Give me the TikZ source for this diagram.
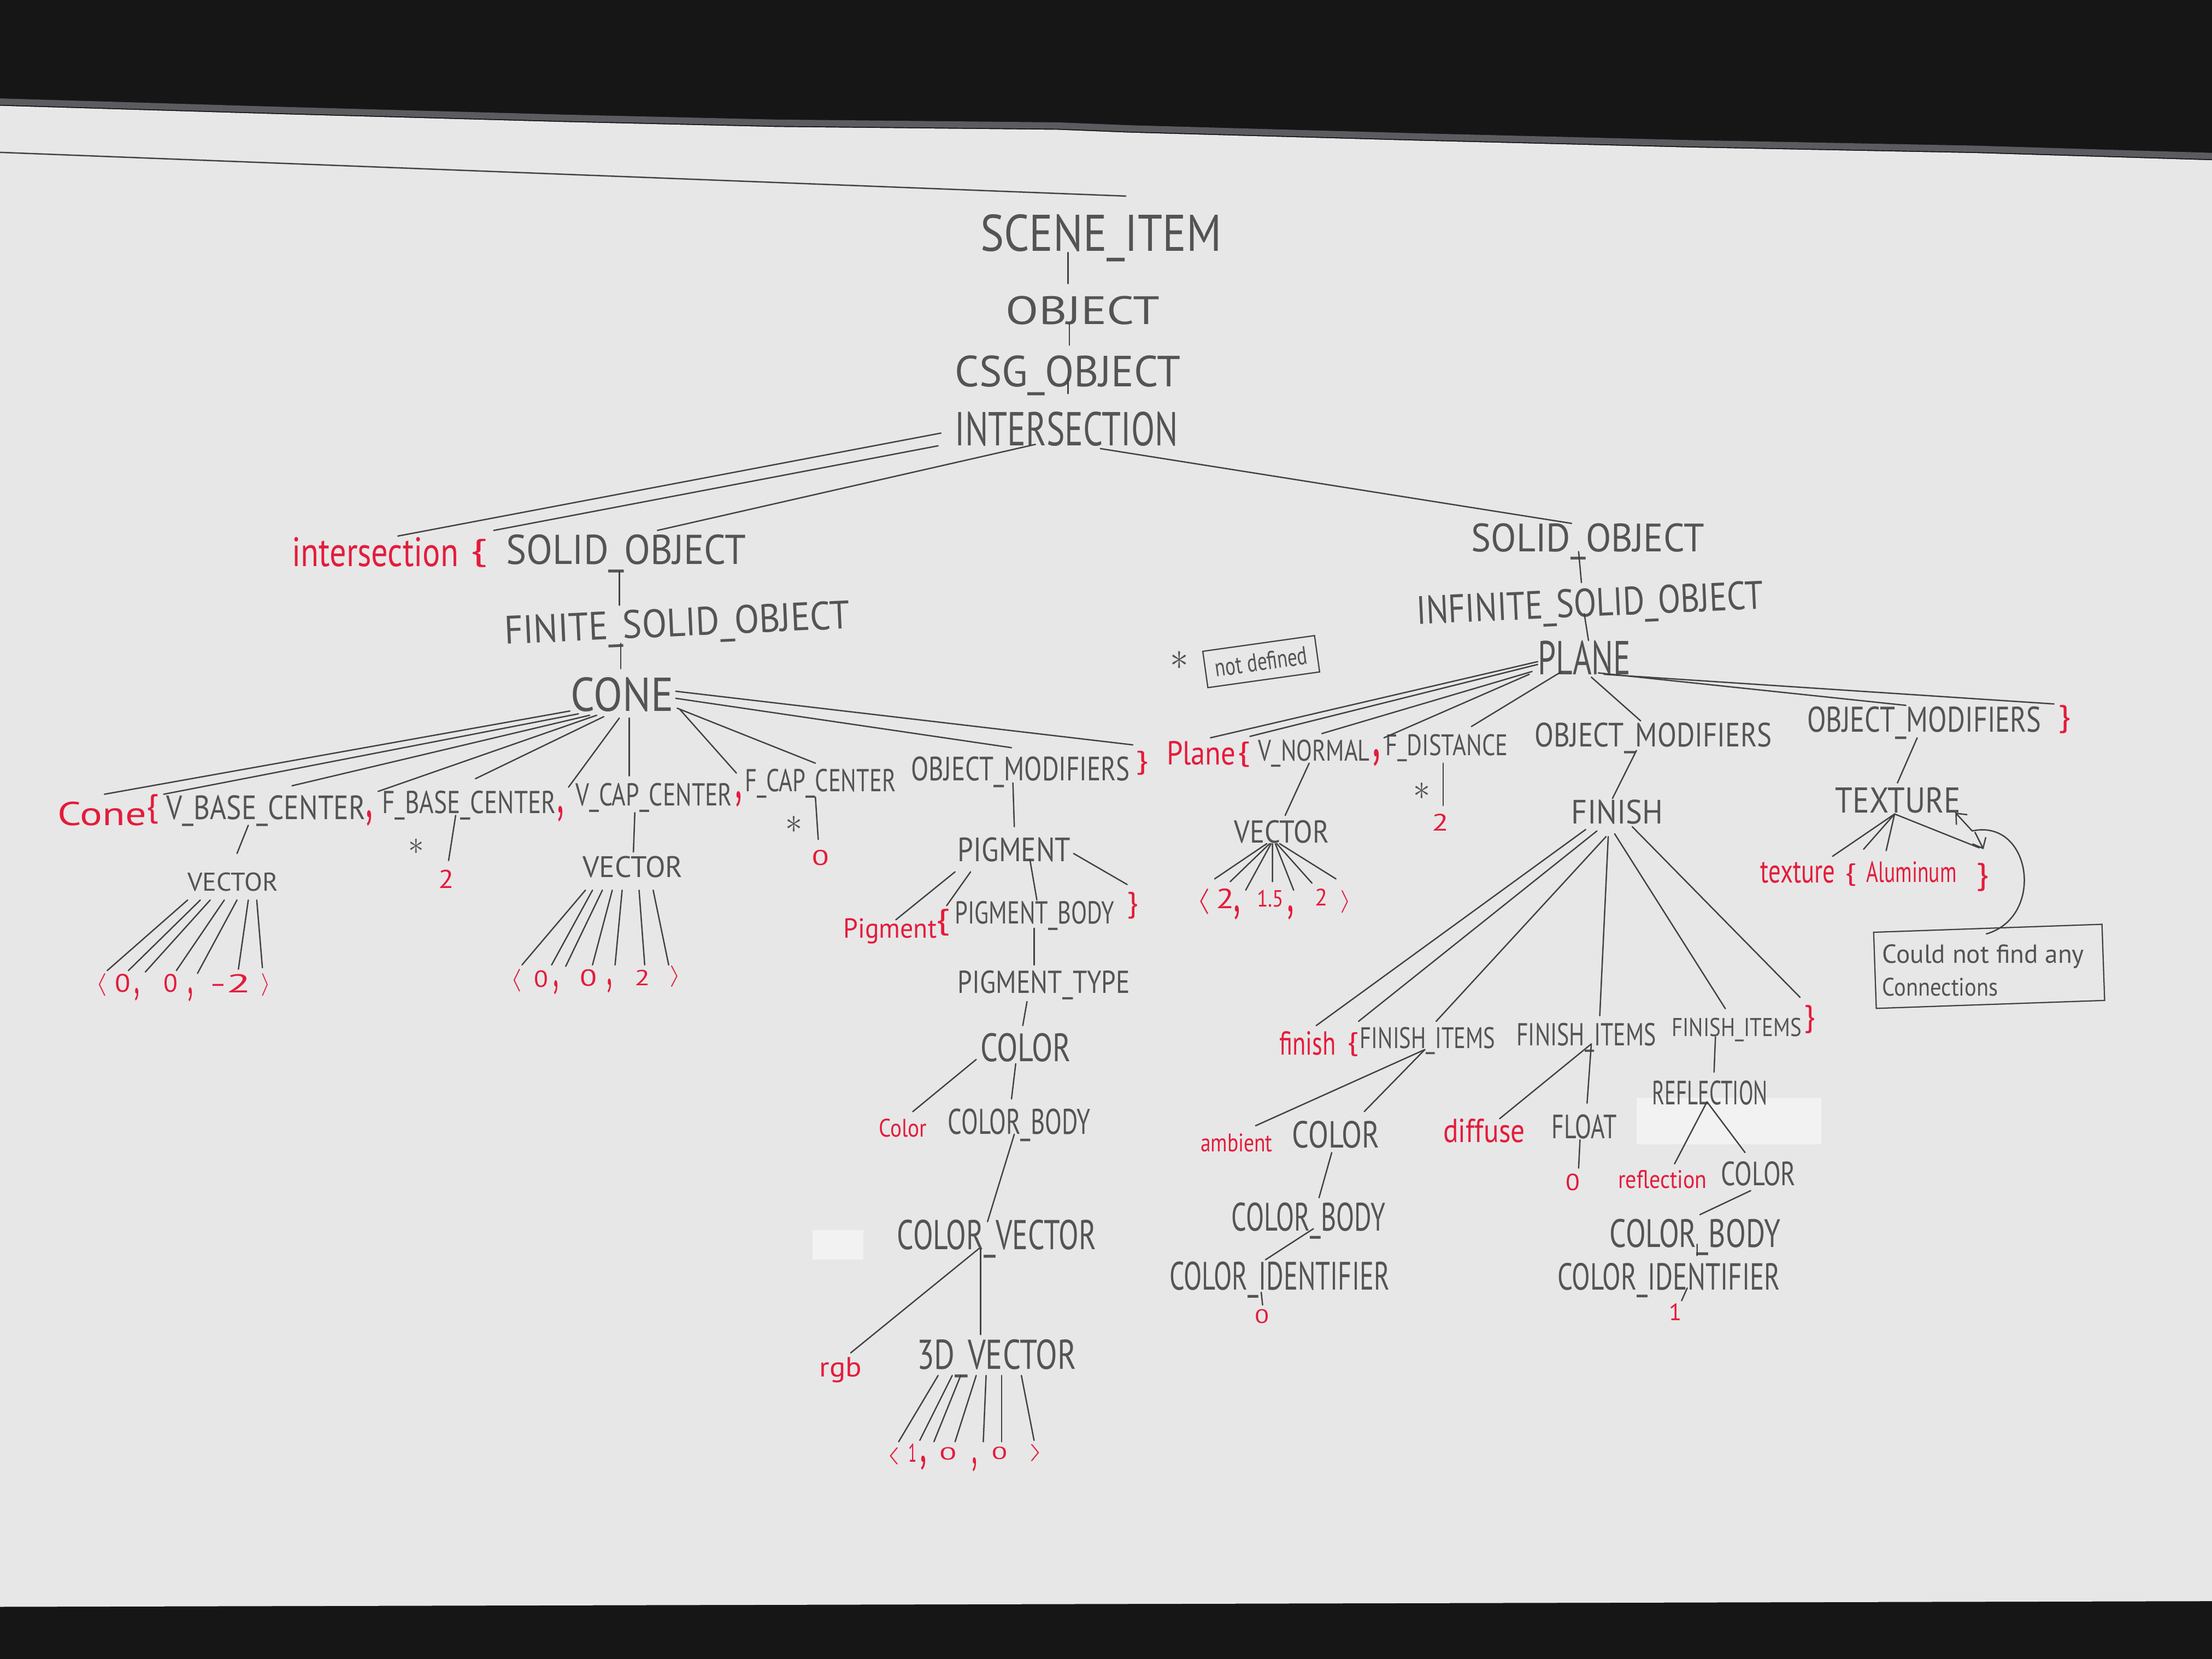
\documentclass[tikz,border=0pt]{standalone}
\usepackage{fontspec}
\usepackage{graphicx}
\setmainfont{PT Sans}
\newfontfamily\hand{PT Sans}
\usetikzlibrary{arrows.meta}

% one unit of the drawing grid
\newlength\pxu
\setlength\pxu{0.02cm}
% capitals: fit width x cap height, underscores hang below
\newcommand\capw[3]{\raisebox{0pt}[#2\pxu][0pt]{\resizebox{#1\pxu}{#2\pxu}{#3}}}
% any text: fit width x total height
\newcommand\totw[3]{\resizebox*{#1\pxu}{#2\pxu}{#3}}

\definecolor{ink}{RGB}{84,84,84}
\definecolor{inkline}{RGB}{66,66,66}
\definecolor{redink}{RGB}{228,28,58}
\definecolor{boardc}{RGB}{231,231,232}
\definecolor{darkc}{RGB}{22,22,22}
\definecolor{framec}{RGB}{92,92,96}
\definecolor{patchc}{RGB}{242,242,242}

\tikzset{
  bk/.style={inner sep=0pt, text=ink, font=\hand},
  rd/.style={inner sep=0pt, text=redink, font=\hand},
  link/.style={draw=inkline, line width=0.55pt, line cap=round},
  boxed/.style={draw=inkline, line width=0.5pt},
}

\begin{document}
\begin{tikzpicture}[x=0.02cm, y=-0.02cm]
\useasboundingbox (0,0) rectangle (1568,1176);

% ---------- whiteboard ----------
\fill[darkc] (0,0) rectangle (1568,1176);
\fill[boardc] (0,75) -- (200,81) -- (400,86.5) -- (550,90) -- (750,92) -- (800,94)
  -- (1000,99.6) -- (1200,104.6) -- (1400,108.5) -- (1568,113.6)
  -- (1568,1135) -- (0,1139) -- cycle;
\draw[framec, line width=0.09cm] (0,72) -- (200,78) -- (400,83.5) -- (550,87) -- (750,89)
  -- (800,91) -- (1000,96.6) -- (1200,101.6) -- (1400,105.5) -- (1568,110.6);
\fill[patchc] (576,872) rectangle (612,893);
\fill[patchc] (1160,778) rectangle (1291,811);
\coordinate (strayA) at (0,108);
\coordinate (strayB) at (798,139);
\draw[link] (strayA) -- (strayB);

% ---------- top chain ----------
\node[bk] (si) at (780.5,165) {\capw{171}{26}{SCENE\_ITEM}};
\node[bk] (obj) at (767.5,220) {\capw{109}{20}{OBJECT}};
\node[bk] (csg) at (757,263) {\capw{160}{22}{CSG\_OBJECT}};
\node[bk] (inter) at (756,304) {\capw{158}{24}{INTERSECTION}};

% ---------- intersection branch ----------
\node[rd] (kwinter) at (266,391.5) {\totw{118}{21}{intersection}};
\node[rd] (lb1) at (339.5,392) {\totw{12}{20}{\{}};
\node[bk] (so1) at (444,389.5) {\capw{170}{21}{SOLID\_OBJECT}};
\node[bk, rotate=2.6] (fso) at (480,441) {\capw{245}{20}{FINITE\_SOLID\_OBJECT}};
\node[bk] (cone) at (441,492) {\capw{73}{24}{CONE}};

\node[rd] (kwcone) at (72.5,577) {\totw{63}{17}{Cone}};
\node[rd] (lb2) at (108,573.5) {\totw{9}{21}{\{}};
\node[bk] (vbc) at (188.5,572.5) {\capw{141}{17}{V\_BASE\_CENTER}};
\node[rd] (cm1) at (262,580) {\totw{5}{11}{,}};
\node[bk] (fbc) at (332.5,568.5) {\capw{123}{16}{F\_BASE\_CENTER}};
\node[rd] (cm2) at (397.5,577) {\totw{5}{11}{,}};
\node[bk] (vcc) at (463.5,563) {\capw{111}{16}{V\_CAP\_CENTER}};
\node[rd] (cm3) at (523.5,566.5) {\totw{5}{11}{,}};
\node[bk] (fcc) at (581.5,553) {\capw{107}{16}{F\_CAP\_CENTER}};
\node[bk] (om1) at (723.5,545) {\capw{155}{17}{OBJECT\_MODIFIERS}};
\node[rd] (rb1) at (809.5,541) {\totw{9}{17}{\}}};

\node[bk] (ast1) at (295,600) {\totw{11}{11}{$\ast$}};
\node[rd] (two1) at (316.5,623) {\totw{11}{13}{2}};
\node[bk] (vec1) at (165,625) {\capw{64}{13}{VECTOR}};
\node[rd] (la1) at (72,698) {\totw{8}{16}{$\langle$}};
\node[rd] (z1) at (87,697) {\totw{11}{13}{0}};
\node[rd] (c1) at (97,705) {\totw{4}{9}{,}};
\node[rd] (z2) at (121,697) {\totw{10}{13}{0}};
\node[rd] (c2) at (135,705) {\totw{4}{10}{,}};
\node[rd] (m2) at (163.5,697) {\totw{29}{13}{-2}};
\node[rd] (ra1) at (188.5,698) {\totw{7}{16}{$\rangle$}};

\node[bk] (vec2) at (448.5,614.5) {\capw{71}{15}{VECTOR}};
\node[rd] (la2) at (366,695) {\totw{8}{16}{$\langle$}};
\node[rd] (z3) at (383.5,694) {\totw{10}{12}{0}};
\node[rd] (c3) at (394,700) {\totw{4}{10}{,}};
\node[rd] (z4) at (417,693) {\totw{12}{12}{0}};
\node[rd] (c4) at (432,699) {\totw{4}{10}{,}};
\node[rd] (t2) at (455.5,693) {\totw{11}{11}{2}};
\node[rd] (ra2) at (478.5,692) {\totw{8}{15}{$\rangle$}};

\node[bk] (ast2) at (563,584.5) {\totw{12}{12}{$\ast$}};
\node[rd] (zero1) at (581.5,608) {\totw{12}{11}{0}};

\node[bk] (pig) at (719,602) {\capw{80}{17}{PIGMENT}};
\node[rd] (kwpig) at (631,660) {\totw{66}{18}{Pigment}};
\node[rd] (lb3) at (668.5,654) {\totw{10}{19}{\{}};
\node[bk] (pb) at (733.5,647) {\capw{113}{16}{PIGMENT\_BODY}};
\node[rd] (rb2) at (803,642) {\totw{8}{19}{\}}};
\node[bk] (ptype) at (740,696) {\capw{122}{16}{PIGMENT\_TYPE}};
\node[bk] (col1) at (727,742.5) {\capw{64}{20}{COLOR}};
\node[rd] (kwcol) at (640,799.5) {\totw{34}{13}{Color}};
\node[bk] (cb1) at (722.5,795) {\capw{101}{18}{COLOR\_BODY}};
\node[bk] (cv) at (706.5,875) {\capw{141}{21}{COLOR\_VECTOR}};
\node[rd] (kwrgb) at (596,971) {\totw{30}{18}{rgb}};
\node[bk] (v3d) at (706.5,960) {\capw{113}{21}{3D\_VECTOR}};
\node[rd] (la3) at (633,1032) {\totw{10}{12}{$\langle$}};
\node[rd] (o1) at (647,1030) {\totw{6}{13}{1}};
\node[rd] (c5) at (654.5,1037) {\totw{5}{10}{,}};
\node[rd] (z5) at (672,1030.5) {\totw{12}{9}{0}};
\node[rd] (c6) at (691,1038) {\totw{4}{10}{,}};
\node[rd] (z6) at (708.5,1030) {\totw{11}{9}{0}};
\node[rd] (ra3) at (734.5,1030) {\totw{10}{12}{$\rangle$}};

% ---------- plane branch ----------
\node[bk] (so2) at (1125.5,381) {\capw{165}{20}{SOLID\_OBJECT}};
\node[bk, rotate=2.6] (iso) at (1127,427) {\capw{246}{20}{INFINITE\_SOLID\_OBJECT}};
\node[bk] (plane) at (1123,466) {\capw{66}{24}{PLANE}};
\node[bk] (ast3) at (836,468) {\totw{13}{13}{$\ast$}};
\node[bk, boxed, rotate=8, minimum width=1.6cm, minimum height=0.52cm] (nd) at (894,469)
  {\totw{66}{13}{not defined}};

\node[rd] (kwplane) at (851.5,534) {\totw{49}{17}{Plane}};
\node[rd] (lb4) at (881.5,535) {\totw{9}{18}{\{}};
\node[bk] (vn) at (931.5,532) {\capw{79}{15}{V\_NORMAL}};
\node[rd] (cm5) at (976,537) {\totw{6}{12}{,}};
\node[bk] (fd) at (1025.5,528) {\capw{87}{15}{F\_DISTANCE}};
\node[bk] (om2) at (1172,521) {\capw{168}{17}{OBJECT\_MODIFIERS}};
\node[bk] (om3) at (1364,510) {\capw{166}{18}{OBJECT\_MODIFIERS}};
\node[rd] (rb3) at (1463.5,510) {\totw{9}{20}{\}}};

\node[bk] (ast4) at (1008,561) {\totw{12}{12}{$\ast$}};
\node[rd] (two2) at (1021,583) {\totw{12}{12}{2}};
\node[bk] (vec3) at (908.5,589.5) {\capw{67}{16}{VECTOR}};
\node[rd] (la4) at (853,639) {\totw{10}{18}{$\langle$}};
\node[rd] (t3) at (868.5,637) {\totw{13}{14}{2}};
\node[rd] (c7) at (877,647) {\totw{5}{10}{,}};
\node[rd] (f15) at (900.5,637) {\totw{19}{12}{1.5}};
\node[rd] (c8) at (915,647) {\totw{5}{10}{,}};
\node[rd] (t4) at (936.5,636) {\totw{9}{12}{2}};
\node[rd] (ra4) at (954,639) {\totw{8}{16}{$\rangle$}};

\node[bk] (fin) at (1146.5,575.5) {\capw{65}{17}{FINISH}};
\node[bk] (tex) at (1345.5,567) {\capw{89}{18}{TEXTURE}};
\node[rd] (kwtex) at (1274.5,618.5) {\totw{53}{15}{texture}};
\node[rd] (lb5) at (1312,620) {\totw{8}{16}{\{}};
\node[rd] (alu) at (1355,618) {\totw{64}{15}{Aluminum}};
\node[rd] (rb4) at (1405.5,622) {\totw{9}{20}{\}}};
\node[boxed, rotate=2, minimum width=3.24cm, minimum height=1.08cm, inner sep=0pt] (cnf) at (1410,685) {};
\node[bk, anchor=west] (cnf1) at (1334,678) {\totw{143}{17}{Could not find any}};
\node[bk, anchor=west] (cnf2) at (1334,699.5) {\totw{82}{13}{Connections}};
\coordinate (jn) at (1398,589);

\node[rd] (fikw) at (927,739.5) {\totw{40}{17}{finish}};
\node[rd] (lb6) at (959,740.5) {\totw{8}{17}{\{}};
\node[bk] (fi1) at (1012,735.5) {\capw{96}{15}{FINISH\_ITEMS}};
\node[bk] (fi2) at (1124.5,733) {\capw{99}{16}{FINISH\_ITEMS}};
\node[bk] (fi3) at (1231,728) {\capw{92}{13}{FINISH\_ITEMS}};
\node[rd] (rb5) at (1283,722.5) {\totw{8}{20}{\}}};
\node[bk] (refl) at (1212,774.5) {\capw{82}{17}{REFLECTION}};
\node[rd] (amb) at (876.5,810) {\totw{51}{13}{ambient}};
\node[bk] (col2) at (947,804) {\capw{62}{19}{COLOR}};
\node[rd] (dif) at (1052,801.5) {\totw{58}{17}{diffuse}};
\node[bk] (flt) at (1123,798.5) {\capw{46}{17}{FLOAT}};
\node[rd] (zero2) at (1115,838) {\totw{10}{12}{0}};
\node[rd] (kwrefl) at (1178.5,836) {\totw{63}{13}{reflection}};
\node[bk] (col3) at (1246.5,832) {\capw{53}{17}{COLOR}};
\node[bk] (cb2) at (927.5,862.5) {\capw{109}{20}{COLOR\_BODY}};
\node[bk] (cb3) at (1201.5,874) {\capw{121}{20}{COLOR\_BODY}};
\node[bk] (ci1) at (907,904.5) {\capw{156}{20}{COLOR\_IDENTIFIER}};
\node[bk] (ci2) at (1183,905) {\capw{158}{19}{COLOR\_IDENTIFIER}};
\node[rd] (zero3) at (894.5,933) {\totw{10}{10}{0}};
\node[rd] (one) at (1187.5,930) {\totw{9}{12}{1}};

% ---------- connectors ----------
\draw[link] ([shift={(-23.5,14)}]si.center) -- ([shift={(-10.5,-19)}]obj.center);
\draw[link] ([shift={(-9.5,8.5)}]obj.center) -- ([shift={(1,-18.3)}]csg.center);
\draw[link] ([shift={(0,5.5)}]csg.center) -- ([shift={(1,-25)}]inter.center);
\draw[link] ([shift={(-89,3)}]inter.center) -- ([shift={(16,-11.5)}]kwinter.center);
\draw[link] ([shift={(-91,12)}]inter.center) -- ([shift={(10.5,-16)}]lb1.center);
\draw[link] ([shift={(-22,11)}]inter.center) -- ([shift={(22,-13.5)}]so1.center);
\draw[link] ([shift={(24,14)}]inter.center) -- ([shift={(-11.5,-10)}]so2.center);
\draw[link] ([shift={(-5,15.5)}]so1.center) -- ([shift={(-41,-12)}]fso.center);
\draw[link] ([shift={(-40,15)}]fso.center) -- ([shift={(-1,-18)}]cone.center);

\foreach \sx/\sy/\t/\ex/\ey in {-37/12/kwcone/1.5/-14, -31/14/lb2/8/-10.5,
    -23/15/vbc/18.5/-15.5, -18/15/cm1/6/-19, -13/16/fbc/4.5/-16.5,
    -2/17/cm2/5.5/-19, 5/17/vcc/-17.5/-13, 41/11/cm3/-1.5/-18.5,
    39/10/fcc/-3.5/-12, 38/3/om1/-6.5/-15, 38/-2/rb1/-6.5/-13}
  \draw[link] ([shift={(\sx,\sy)}]cone.center) -- ([shift={(\ex,\ey)}]\t.center);

\draw[link] ([shift={(-12.5,12.5)}]vbc.center) -- ([shift={(3,-20)}]vec1.center);
\draw[link] ([shift={(-9.5,9.5)}]fbc.center) -- ([shift={(1.5,-13)}]two1.center);
\draw[link] ([shift={(-13.5,13)}]vcc.center) -- ([shift={(0.5,-10.5)}]vec2.center);
\draw[link] ([shift={(-3.5,12)}]fcc.center) -- ([shift={(-1.5,-13)}]zero1.center);
\draw[link] ([shift={(-5.5,10)}]om1.center) -- ([shift={(0,-16)}]pig.center);

\foreach \sx/\t/\ex/\ey in {-32/la1/4/-10, -23/z1/4/-9, -16/c1/6/-16, -6/z2/4/-9,
    3/c2/5/-15, 11/m2/5.5/-10, 17/ra1/-2.5/-12}
  \draw[link] ([shift={(\sx,13)}]vec1.center) -- ([shift={(\ex,\ey)}]\t.center);
\foreach \sx/\t/\ex/\ey in {-33.5/la2/4/-11, -28.5/z3/7.5/-10, -21.5/c3/7/-15,
    -14.5/z4/3/-9, -7.5/c4/4/-15, 4.5/t2/1.5/-9, 14.5/ra2/-4.5/-8}
  \draw[link] ([shift={(\sx,16.5)}]vec2.center) -- ([shift={(\ex,\ey)}]\t.center);
\foreach \sx/\t/\ex/\ey in {-41.5/la3/4/-10, -31.5/o1/5/-9, -25.5/c5/7.5/-15,
    -14.5/z5/5/-8.5, -7.5/c6/6/-16, 3.5/z6/1.5/-8, 17.5/ra3/-1.5/-9}
  \draw[link] ([shift={(\sx,15)}]v3d.center) -- ([shift={(\ex,\ey)}]\t.center);
\foreach \sx/\t/\ex/\ey in {-10.5/la4/8/-16, -8.5/t3/3.5/-12, -7.5/c7/6/-16,
    -6.5/f15/1.5/-12, -4.5/c8/2/-16, -3.5/t4/-6.5/-10, -1.5/ra4/-7/-16}
  \draw[link] ([shift={(\sx,8.5)}]vec3.center) -- ([shift={(\ex,\ey)}]\t.center);

\draw[link] ([shift={(-42,16)}]pig.center) -- ([shift={(4,-8)}]kwpig.center);
\draw[link] ([shift={(-31,16)}]pig.center) -- ([shift={(2.5,-12)}]lb3.center);
\draw[link] ([shift={(11,7)}]pig.center) -- ([shift={(1.5,-9)}]pb.center);
\draw[link] ([shift={(42,3)}]pig.center) -- ([shift={(-4,-15)}]rb2.center);
\draw[link] ([shift={(-0.5,11)}]pb.center) -- ([shift={(-7,-12)}]ptype.center);
\draw[link] ([shift={(-12,14)}]ptype.center) -- ([shift={(-2,-15.5)}]col1.center);
\draw[link] ([shift={(-35,8.5)}]col1.center) -- ([shift={(7,-11.5)}]kwcol.center);
\draw[link] ([shift={(-7,11.5)}]col1.center) -- ([shift={(-5.5,-16)}]cb1.center);
\draw[link] ([shift={(-3.5,9)}]cb1.center) -- ([shift={(-6.5,-9)}]cv.center);
\draw[link] ([shift={(-12.5,10)}]cv.center) -- ([shift={(7,-12)}]kwrgb.center);
\draw[link] ([shift={(-11.5,10)}]cv.center) -- ([shift={(-11.5,-14)}]v3d.center);

\draw[link] ([shift={(-6.5,10)}]so2.center) -- ([shift={(-6,-14)}]iso.center);
\draw[link] ([shift={(-4,8)}]iso.center) -- ([shift={(3,-12)}]plane.center);
\foreach \sx/\sy/\t/\ex/\ey in {-33/3/kwplane/6.5/-11, -33/5/lb4/4.5/-13,
    -37/10/vn/5.5/-12, -39/12/cm5/5/-14, -16/10/fd/17.5/-13,
    5/14/om2/-9/-10, 10/11/om3/-13/-10, 14/12/rb3/-7.5/-11}
  \draw[link] ([shift={(\sx,\sy)}]plane.center) -- ([shift={(\ex,\ey)}]\t.center);
\draw[link] ([shift={(-2.5,13)}]fd.center) -- ([shift={(2,-12)}]two2.center);
\draw[link] ([shift={(-3.5,9)}]vn.center) -- ([shift={(2.5,-11.5)}]vec3.center);
\draw[link] ([shift={(-12,11)}]om2.center) -- ([shift={(-3.5,-9.5)}]fin.center);
\draw[link] ([shift={(-5,13)}]om3.center) -- ([shift={(-0.5,-12)}]tex.center);
\foreach \t/\ex/\ey in {kwtex/24.5/-11.5, lb5/9/-18, alu/-18/-15, rb4/-2.5/-21}
  \draw[link] ([shift={(-2.5,10)}]tex.center) -- ([shift={(\ex,\ey)}]\t.center);

\draw[link] ([shift={(-2,-23)}]cnf.center) .. controls ([shift={(40,-35)}]cnf.center)
  and ([shift={(30,-105)}]cnf.center) .. (jn);
\draw[link, -{Straight Barb[length=3.5pt,width=6pt]}] (jn) -- ([shift={(40.5,9)}]tex.center);
\draw[link, -{Straight Barb[length=3.5pt,width=6pt]}] ([shift={(2,1)}]jn) -- ([shift={(0.5,-20)}]rb4.center);

\foreach \sx/\sy/\t/\ex/\ey in {-22.5/12.5/fikw/6/-12.5, -14.5/13.5/lb6/4/-16.5,
    -8/17.5/fi1/6/-11.5, -6.5/17.5/fi2/9.5/-13, -2/15.5/fi3/-8/-13,
    10.5/10.5/rb5/-7/-15.5}
  \draw[link] ([shift={(\sx,\sy)}]fin.center) -- ([shift={(\ex,\ey)}]\t.center);

\draw[link] ([shift={(-2,8.5)}]fi1.center) -- ([shift={(13.5,-12)}]amb.center);
\draw[link] ([shift={(-2,8.5)}]fi1.center) -- ([shift={(20,-16)}]col2.center);
\draw[link] ([shift={(3.5,7)}]fi2.center) -- ([shift={(11,-8.5)}]dif.center);
\draw[link] ([shift={(3.5,7)}]fi2.center) -- ([shift={(2,-16.5)}]flt.center);
\draw[link] ([shift={(-15,7)}]fi3.center) -- ([shift={(3,-14.5)}]refl.center);
\draw[link] ([shift={(-2,6.5)}]refl.center) -- ([shift={(8.5,-11)}]kwrefl.center);
\draw[link] ([shift={(-2,6.5)}]refl.center) -- ([shift={(-9.5,-15)}]col3.center);
\draw[link] ([shift={(-3,13)}]col2.center) -- ([shift={(7.5,-13.5)}]cb2.center);
\draw[link] ([shift={(3.5,8.5)}]cb2.center) -- ([shift={(-10,-11.5)}]ci1.center);
\draw[link] ([shift={(-13,11.5)}]ci1.center) -- ([shift={(0.5,-8)}]zero3.center);
\draw[link] ([shift={(-3,9.5)}]flt.center) -- ([shift={(4,-10)}]zero2.center);
\draw[link] ([shift={(-5.5,12)}]col3.center) -- ([shift={(3.5,-13)}]cb3.center);
\draw[link] ([shift={(1.5,8)}]cb3.center) -- ([shift={(20,-15)}]ci2.center);
\draw[link] ([shift={(13,8)}]ci2.center) -- ([shift={(4.5,-8)}]one.center);

\end{tikzpicture}
\end{document}
